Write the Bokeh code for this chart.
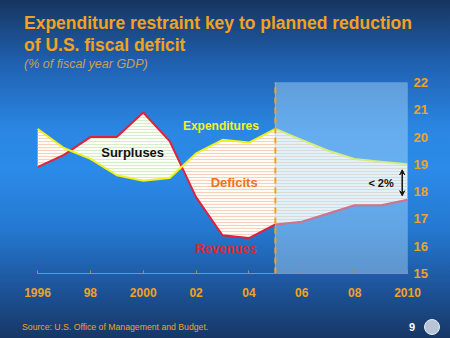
import numpy as np
from bokeh.plotting import figure
from bokeh.layouts import column
from bokeh.models import (Range1d, FixedTicker, LinearAxis, Label, Arrow, VeeHead,
                          ColumnDataSource, Div)
from bokeh.embed import file_html
from bokeh.resources import INLINE

years = [1996, 1997, 1998, 1999, 2000, 2001, 2002, 2003, 2004, 2005, 2006, 2007, 2008, 2009, 2010]
expenditures = [20.3, 19.6, 19.2, 18.6, 18.4, 18.5, 19.4, 19.9, 19.8, 20.3, 19.9, 19.5, 19.2, 19.1, 19.0]
revenues = [18.9, 19.35, 20.0, 20.0, 20.9, 19.85, 17.8, 16.4, 16.3, 16.8, 16.9, 17.2, 17.5, 17.5, 17.7]
x_ticks = [1996, 1998, 2000, 2002, 2004, 2006, 2008, 2010]
x_tick_labels = ["1996", "98", "2000", "02", "04", "06", "08", "2010"]
y_ticks = [15, 16, 17, 18, 19, 20, 21, 22]
forecast_start, forecast_end = 2005, 2010

ORANGE = "#F2A21E"
FONT = "Liberation Sans"

TOP_H, BOT_H = 76, 20
p = figure(width=450, height=338 - TOP_H - BOT_H, output_backend="svg", toolbar_location=None,
           x_range=Range1d(1996, 2010), y_range=Range1d(15, 22),
           min_border_left=37, min_border_right=43, min_border_top=6, min_border_bottom=45,
           y_axis_location=None)
p.background_fill_color = None
p.border_fill_color = None
p.outline_line_color = None
p.grid.visible = False

# fill between curves (with crossing points added)
x = np.array(years, float)
e = np.array(expenditures)
r = np.array(revenues)
xs = [x[0]]
for i in range(len(x) - 1):
    d0, d1 = e[i] - r[i], e[i + 1] - r[i + 1]
    if d0 * d1 < 0:
        t = d0 / (d0 - d1)
        xs.append(x[i] + t * (x[i + 1] - x[i]))
    xs.append(x[i + 1])
xs = np.array(xs)
ea = np.interp(xs, x, e)
ra = np.interp(xs, x, r)
top = np.maximum(ea, ra)
src = ColumnDataSource(dict(x=xs, e=ea, r=ra, top=top))

p.varea(x="x", y1="r", y2="top", source=src, fill_color="#FFFCF6",
        hatch_pattern="-", hatch_color="#F6D2BE", hatch_scale=3, hatch_weight=1)
p.varea(x="x", y1="e", y2="top", source=src, fill_color="#FBFDF6",
        hatch_pattern="-", hatch_color="#D6ECCB", hatch_scale=3, hatch_weight=1)

p.line(years, revenues, line_color="#E2203C", line_width=2)
p.line(years, expenditures, line_color="#EEF21A", line_width=2)

# forecast shading
p.quad(left=[forecast_start], right=[forecast_end], bottom=[15], top=[22],
       fill_color="#B8E2FF", fill_alpha=0.42, line_color="#A8D6F4", line_alpha=0.6, line_width=1)
p.segment(x0=[forecast_start], x1=[forecast_start], y0=[15], y1=[22],
          line_color=ORANGE, line_width=2, line_dash="6 4")

# axes
p.xaxis.ticker = FixedTicker(ticks=x_ticks)
p.xaxis.major_label_overrides = dict(zip(x_ticks, x_tick_labels))
p.xaxis.axis_line_color = "#B88A4A"
p.xaxis.major_tick_line_color = "#B88A4A"
p.xaxis.major_tick_in = 3
p.xaxis.major_tick_out = 0
p.xaxis.minor_tick_line_color = None
p.xaxis.major_label_text_color = ORANGE
p.xaxis.major_label_text_font = FONT
p.xaxis.major_label_text_font_style = "bold"
p.xaxis.major_label_text_font_size = "12px"
p.xaxis.major_label_standoff = 14

yax = LinearAxis(ticker=FixedTicker(ticks=y_ticks))
yax.axis_line_color = None
yax.major_tick_line_color = None
yax.major_tick_in = 0
yax.major_tick_out = 0
yax.minor_tick_line_color = None
yax.major_label_text_color = ORANGE
yax.major_label_text_font = FONT
yax.major_label_text_font_style = "bold"
yax.major_label_text_font_size = "13px"
yax.major_label_standoff = 6
p.add_layout(yax, "right")

def lab(x, y, text, color, size, style="bold"):
    p.add_layout(Label(x=x, y=y, text=text, text_color=color,
                       text_font=FONT, text_font_size=size, text_font_style=style,
                       text_align="center", text_baseline="middle"))

# in-plot labels
lab(1999.6, 19.44, "Surpluses", "#111111", "13px")
lab(2002.94, 20.39, "Expenditures", "#F2F21E", "12px")
lab(2003.44, 18.34, "Deficits", "#F07024", "13px")
lab(2003.13, 15.92, "Revenues", "#E4242A", "13px")
lab(2009.0, 18.3, "< 2%", "#111111", "11px")
p.add_layout(Arrow(x_start=2009.8, y_start=17.85, x_end=2009.8, y_end=18.8,
                   line_color="#111111", line_width=1.5,
                   start=VeeHead(size=5, line_color="#111111", fill_color="#111111"),
                   end=VeeHead(size=5, line_color="#111111", fill_color="#111111")))

title_html = (
    f'<div style="position:relative;width:450px;height:{TOP_H}px;font-family:\'Liberation Sans\',Arial,sans-serif;">'
    f'<div style="position:absolute;left:24px;top:15px;font-size:17.5px;line-height:17.5px;font-weight:bold;color:{ORANGE};white-space:nowrap;">Expenditure restraint key to planned reduction</div>'
    f'<div style="position:absolute;left:24px;top:37px;font-size:17.5px;line-height:17.5px;font-weight:bold;color:{ORANGE};white-space:nowrap;">of U.S. fiscal deficit</div>'
    f'<div style="position:absolute;left:24px;top:58px;font-size:12.5px;line-height:12.5px;font-style:italic;color:#C9A055;white-space:nowrap;">(% of fiscal year GDP)</div>'
    '</div>'
)
source_html = (
    f'<div style="position:relative;width:450px;height:{BOT_H}px;font-family:\'Liberation Sans\',Arial,sans-serif;">'
    f'<div style="position:absolute;left:22px;top:5px;font-size:8.7px;line-height:9px;color:{ORANGE};white-space:nowrap;">Source: U.S. Office of Management and Budget.</div>'
    '<div style="position:absolute;left:409px;top:4px;font-size:11px;line-height:11px;font-weight:bold;color:#FFFFFF;">9</div>'
    '<div style="position:absolute;left:424px;top:1px;width:16px;height:16px;border-radius:50%;background:#B8C4D8;border:1px solid #E8EEF6;"></div>'
    '</div>'
)
top_div = Div(text=title_html, width=450, height=TOP_H, margin=0)
bot_div = Div(text=source_html, width=450, height=BOT_H, margin=0)

layout = column(top_div, p, bot_div, width=450, height=338, spacing=0, margin=0)
layout.styles = {"background": "linear-gradient(180deg, #17355f 0%, #1f5fae 18%, #2a86e2 38%, #2b8be8 50%, #2578d0 68%, #1d549a 85%, #173766 100%)"}

open("out.html", "w").write(file_html(layout, INLINE))
